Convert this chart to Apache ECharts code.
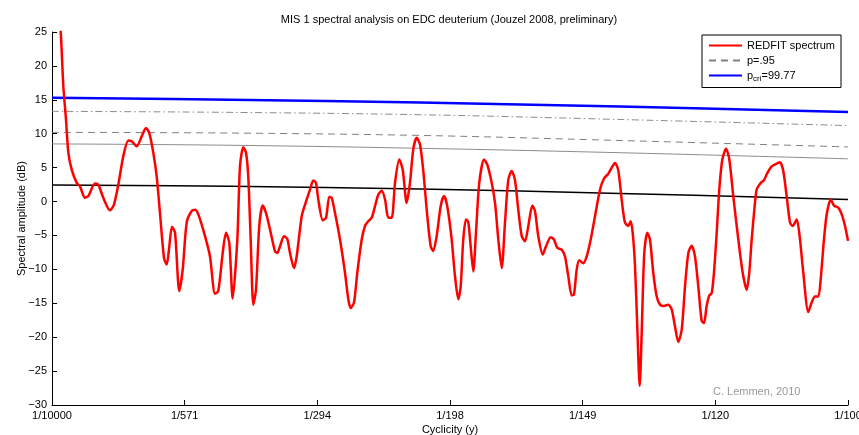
<!DOCTYPE html>
<html>
<head>
<meta charset="utf-8">
<script src="https://cdn.jsdelivr.net/npm/echarts@6/dist/echarts.min.js"></script>
<style>
html,body{margin:0;padding:0;background:#fff;}
#chart{width:859px;height:435px;}
</style>
</head>
<body>
<div id="chart"></div>
<script>
// Frequency in cycles per 1000 years (1/kyr); tick labels show period 1/years
var freq = [0.162,0.208,0.241,0.274,0.303,0.345,0.407,0.448,0.510,0.551,0.635,0.676,0.738,0.821,0.871,0.925,0.987,1.049,1.091,1.153,1.216,1.269,1.310,1.360,1.402,1.443,1.493,1.527,1.559,1.592,1.630,1.683,1.726,1.775,1.837,1.879,1.920,2.003,2.065,2.127,2.168,2.223,2.264,2.305,2.347,2.405,2.438,2.479,2.513,2.541,2.571,2.604,2.637,2.678,2.720,2.762,2.811,2.873,2.902,2.936,2.985,3.026,3.060,3.110,3.143,3.205,3.247,3.309,3.350,3.383,3.412,3.467,3.508,3.549,3.579,3.620,3.682,3.744,3.785,3.815,3.856,3.897,3.952,3.993,4.034,4.076,4.117,4.158,4.201,4.242,4.283,4.325,4.366,4.419,4.462,4.511,4.552,4.593,4.636,4.677,4.718,4.768,4.810,4.842,4.884,4.934,4.975,5.016,5.071,5.112,5.153,5.183,5.215,5.249,5.277,5.307,5.340,5.373,5.414,5.473,5.514,5.569,5.610,5.651,5.693,5.734,5.775,5.817,5.858,5.899,5.942,5.983,6.024,6.074,6.107,6.148,6.203,6.244,6.302,6.343,6.384,6.439,6.480,6.521,6.564,6.592,6.626,6.658,6.708,6.750,6.800,6.853,6.916,6.965,7.019,7.061,7.102,7.143,7.185,7.226,7.267,7.297,7.322,7.351,7.379,7.409,7.434,7.466,7.504,7.537,7.578,7.621,7.662,7.711,7.765,7.807,7.848,7.889,7.932,7.973,8.014,8.056,8.097,8.138,8.180,8.209,8.242,8.275,8.305,8.333,8.367,8.399,8.437,8.483,8.524,8.573,8.636,8.690,8.740,8.772,8.802,8.835,8.864,8.914,8.955,8.996,9.051,9.113,9.154,9.195,9.237,9.279,9.312,9.362,9.403,9.444,9.506,9.548,9.589,9.631,9.660,9.701,9.735,9.785,9.826,9.879,9.922,9.963,10.000];
var redfit = [31,25.1,17.0,12.1,7.2,4.7,2.75,2.25,0.55,0.8,2.65,2.5,0.55,-1.3,-0.44,2.5,6.7,9.0,8.9,8.15,9.6,10.85,10.1,7.2,3.7,-1.7,-8.3,-9.3,-6.6,-3.7,-4.6,-13.2,-10.0,-3.1,-1.4,-1.2,-1.9,-5.1,-8.1,-13.6,-13.2,-7.6,-4.6,-6.1,-14.3,-5.6,5.2,8.0,7.2,3.7,-5.6,-15.2,-13.0,-3.6,-0.6,-1.7,-4.1,-7.3,-7.6,-6.6,-5.1,-5.5,-7.6,-9.8,-8.1,-2.2,-0.44,1.77,3.1,2.75,0.3,-2.75,-2.4,0.7,0.55,-1.7,-5.6,-10.5,-14.4,-15.7,-14.9,-10.5,-5.6,-3.6,-2.9,-2.4,-0.7,1.0,1.6,0.3,-2.4,-2.4,2.75,6.2,4.7,-0.2,2.75,7.7,9.4,8.4,4.5,-2.2,-6.6,-7.3,-5.1,-0.7,0.8,-0.7,-5.6,-11.0,-14.4,-12.5,-5.6,-2.65,-3.0,-6.6,-10.3,-4.6,2.75,6.2,5.45,2.75,-0.2,-5.6,-9.8,-3.1,3.2,4.5,3.2,-1.2,-5.1,-5.85,-3.6,-0.6,-1.4,-5.1,-7.8,-6.6,-5.25,-5.6,-6.8,-7.1,-8.1,-11.0,-13.85,-13.7,-10.0,-8.65,-9.1,-8.1,-5.6,-2.2,1.77,3.4,4.1,5.0,5.7,4.6,0.3,-3.1,-3.6,-2.9,-4.6,-9.5,-18.4,-27.2,-19.4,-7.6,-4.6,-5.6,-10.5,-14.0,-15.2,-15.4,-15.2,-15.9,-18.4,-20.7,-18.9,-12.5,-7.6,-6.5,-8.1,-12.5,-17.6,-17.9,-15.4,-13.85,-13.5,-10.5,-4.6,1.77,6.2,7.8,6.2,0.8,-5.6,-10.5,-13.0,-10.5,-5.6,-1.2,1.77,2.75,3.15,4.2,5.2,5.6,5.8,4.5,0.8,-3.1,-3.6,-2.65,-5.6,-10.5,-16.3,-14.9,-14.0,-14.0,-11.5,-5.6,-1.9,0.3,-0.6,-0.9,-1.9,-3.6,-5.8];

// significance levels (sampled along frequency)
var levelFreq = [0.1, 2.314, 4.677, 7.164, 10.0];
var pcri      = [15.3, 15.0, 14.6, 14.0, 13.2];
var levelDashDot = [13.3, 13.15, 12.8, 12.1, 11.2];
var p95       = [10.2, 10.1, 9.75, 9.0, 8.05];
var levelGray = [8.5, 8.3, 7.85, 7.2, 6.3];
var levelBlack = [2.45, 2.25, 1.85, 1.2, 0.3];

var xTicks = [0.1, 1.75, 3.4, 5.05, 6.7, 8.35, 10.0];
var xTickLabels = ['1/10000','1/571','1/294','1/198','1/149','1/120','1/100'];

var titleText = 'MIS 1 spectral analysis on EDC deuterium (Jouzel 2008, preliminary)';
var credit = 'C. Lemmen, 2010';

function pairs(xs, ys){ return xs.map(function(x,i){ return [x, ys[i]]; }); }

var FONT = '"Liberation Sans", Arial, Helvetica, sans-serif';
var chart = echarts.init(document.getElementById('chart'), null, {renderer:'canvas'});

chart.setOption({
  animation: false,
  backgroundColor: '#fff',
  textStyle: { fontFamily: FONT },
  title: {
    text: titleText,
    left: 444, top: 9, textAlign: 'center',
    textStyle: { fontSize: 11, fontWeight: 'normal', color: '#000', fontFamily: FONT }
  },
  grid: { left: 52, right: 11, top: 32, bottom: 30, containLabel: false, outerBoundsMode: 'none' },
  legend: {
    data: ['REDFIT spectrum', 'p=.95', 'pcri'],
    orient: 'vertical',
    right: 18, top: 35,
    backgroundColor: '#fff',
    borderColor: '#000', borderWidth: 1,
    padding: [5, 6, 5, 6],
    itemGap: 4, itemWidth: 33, itemHeight: 12,
    itemStyle: { opacity: 0 },
    textStyle: {
      fontSize: 11, color: '#000', fontFamily: FONT,
      rich: {
        a: { fontSize: 11, color: '#000', fontFamily: FONT },
        sub: { fontSize: 8, color: '#000', fontFamily: FONT, verticalAlign: 'bottom', padding: [6,0,0,0] }
      }
    },
    formatter: function(name){
      if (name === 'pcri') return '{a|p}{sub|cri}{a|=99.77}';
      return name;
    }
  },
  xAxis: {
    type: 'value', min: 0.1, max: 10.0,
    name: 'Cyclicity (y)', nameLocation: 'middle', nameGap: 19, nameMoveOverlap: false,
    nameTextStyle: { fontSize: 11, color: '#000', fontFamily: FONT },
    axisLine: { show: true, onZero: false, lineStyle: { color: '#000', width: 1 } },
    axisTick: { show: true, inside: true, length: 5, customValues: xTicks, lineStyle: { color: '#000' } },
    axisLabel: {
      customValues: xTicks, fontSize: 11, color: '#000', margin: 5, fontFamily: FONT,
      formatter: function(v){
        for (var i = 0; i < xTicks.length; i++) if (Math.abs(xTicks[i]-v) < 1e-6) return xTickLabels[i];
        return '';
      }
    },
    splitLine: { show: false }
  },
  yAxis: {
    type: 'value', min: -30, max: 25, interval: 5,
    name: 'Spectral amplitude (dB)', nameLocation: 'middle', nameGap: 25, nameMoveOverlap: false,
    nameTextStyle: { fontSize: 11, color: '#000', fontFamily: FONT },
    axisLine: { show: true, lineStyle: { color: '#000', width: 1 } },
    axisTick: { show: true, inside: true, length: 5, lineStyle: { color: '#000' } },
    axisLabel: {
      fontSize: 11, color: '#000', margin: 5, fontFamily: FONT,
      formatter: function(v){ return v < 0 ? '\u2212' + Math.abs(v) : String(v); }
    },
    splitLine: { show: false }
  },
  graphic: [{
    type: 'text', left: 713, top: 386,
    style: { text: credit, fill: '#999', fontSize: 11, fontFamily: FONT }
  }],
  series: [
    { name: 'levelBlack', type: 'line', data: pairs(levelFreq, levelBlack), smooth: 0.4, showSymbol: false, symbol: 'none',
      lineStyle: { color: '#000', width: 1.5 }, z: 2 },
    { name: 'levelGray', type: 'line', data: pairs(levelFreq, levelGray), smooth: 0.4, showSymbol: false, symbol: 'none',
      lineStyle: { color: '#8c8c8c', width: 1 }, z: 2 },
    { name: 'p=.95', type: 'line', data: pairs(levelFreq, p95), smooth: 0.4, showSymbol: false, symbol: 'none',
      lineStyle: { color: '#808080', width: 1, type: [7, 5] }, itemStyle: { color: '#808080' }, z: 2 },
    { name: 'levelDashDot', type: 'line', data: pairs(levelFreq, levelDashDot), smooth: 0.4, showSymbol: false, symbol: 'none',
      lineStyle: { color: '#8c8c8c', width: 1, type: [7, 3, 1.5, 3] }, z: 2 },
    { name: 'pcri', type: 'line', data: pairs(levelFreq, pcri), smooth: 0.4, showSymbol: false, symbol: 'none',
      lineStyle: { color: '#0000ff', width: 2.5 }, itemStyle: { color: '#0000ff' }, z: 3 },
    { name: 'REDFIT spectrum', type: 'line', data: pairs(freq, redfit), smooth: 0.25, showSymbol: false, symbol: 'none',
      clip: true, lineStyle: { color: '#ff0000', width: 2.5 }, itemStyle: { color: '#ff0000' }, z: 4 }
  ]
});
</script>
</body>
</html>
